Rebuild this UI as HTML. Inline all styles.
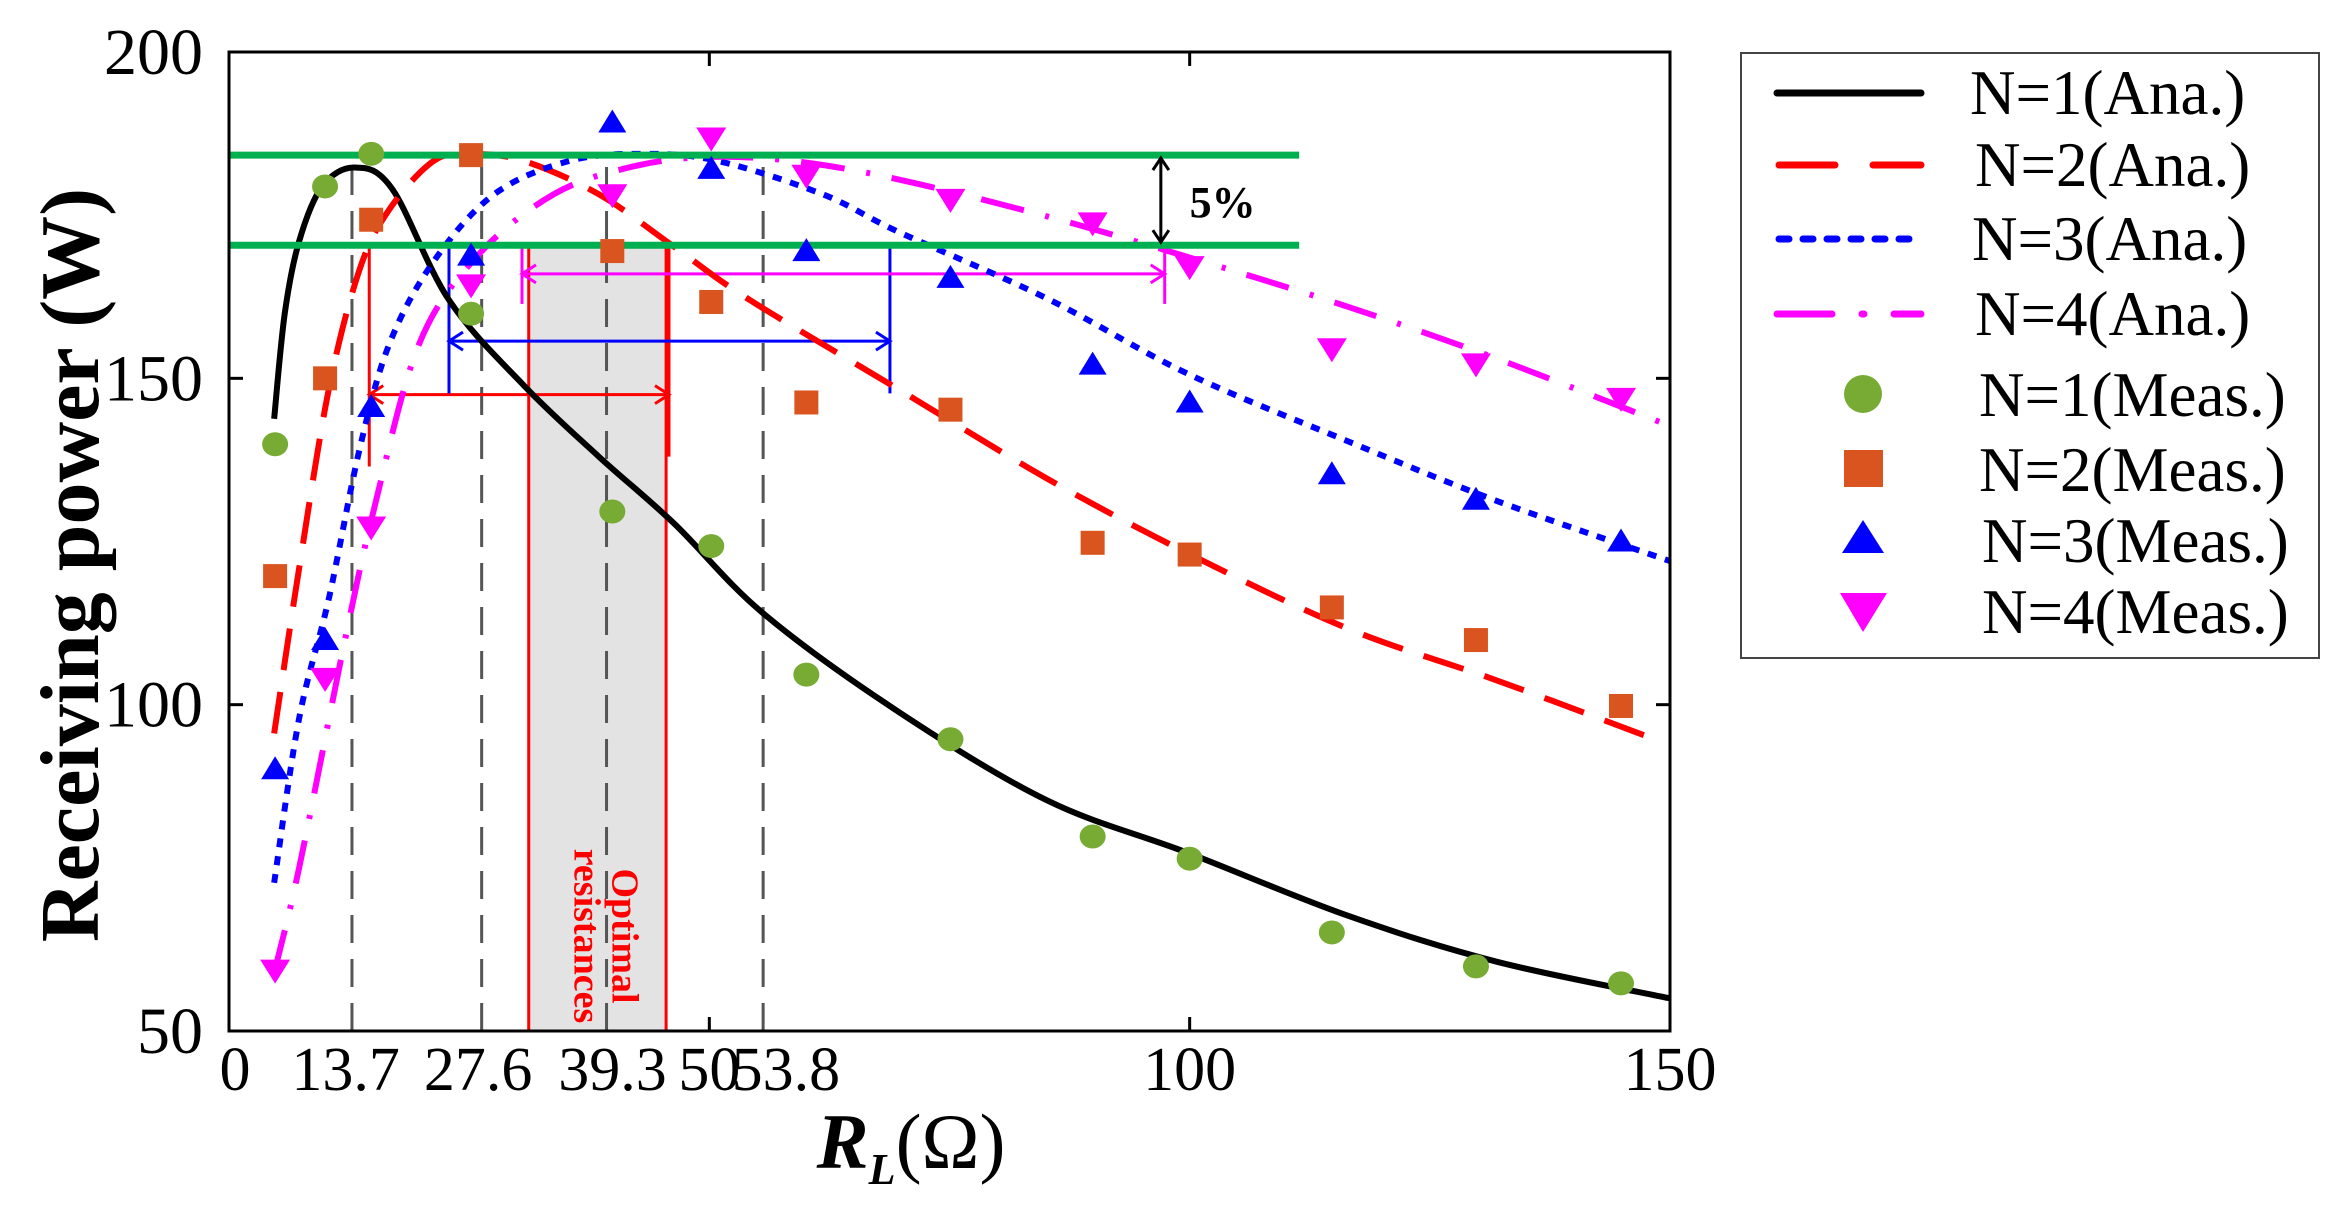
<!DOCTYPE html>
<html><head><meta charset="utf-8"><style>
html,body{margin:0;padding:0;background:#fff;}
svg{display:block;font-family:"Liberation Serif",serif;}
</style></head><body>
<svg id="chart" width="2346" height="1211" viewBox="0 0 2346 1211" xmlns="http://www.w3.org/2000/svg">
<g id="plot"></g>
<g id="legend">
  <rect x="1741" y="53" width="578" height="605" fill="#fff" stroke="#444" stroke-width="2"/>
  <line x1="1777" y1="93" x2="1921" y2="93" stroke="#000" stroke-width="7" stroke-linecap="round"/>
  <line x1="1779" y1="165" x2="1921" y2="165" stroke="#f00" stroke-width="7" stroke-linecap="round" stroke-dasharray="56 38"/>
  <line x1="1779" y1="239" x2="1921" y2="239" stroke="#00f" stroke-width="7" stroke-linecap="round" stroke-dasharray="10 14"/>
  <line x1="1777" y1="314" x2="1921" y2="314" stroke="#f0f" stroke-width="7" stroke-linecap="round" stroke-dasharray="55 30 2 30"/>
  <circle cx="1863" cy="394" r="19" fill="#77ab33"/>
  <rect x="1844" y="450" width="39" height="37" fill="#d9541e"/>
  <polygon points="1863,520 1884,553 1842,553" fill="#00f"/>
  <polygon points="1840,593 1887,593 1863,632" fill="#f0f"/>
  <g font-size="63" fill="#000">
    <text x="1970" y="114">N=1(Ana.)</text>
    <text x="1975" y="186">N=2(Ana.)</text>
    <text x="1972" y="260">N=3(Ana.)</text>
    <text x="1975" y="335">N=4(Ana.)</text>
    <text x="1979" y="416">N=1(Meas.)</text>
    <text x="1979" y="491">N=2(Meas.)</text>
    <text x="1982" y="562">N=3(Meas.)</text>
    <text x="1982" y="633">N=4(Meas.)</text>
  </g>
</g>
</svg>
<script>
const ana1X=[4.7,5.8,7.3,9.7,13.1,17,22.9,30.7,38.5,46.3,55.6,69.6,85.2,99.8,116.4,132,150];
const ana1Y=[143.8,159.9,171,179.4,182.3,179,162,148.9,138,127.8,114,99,85.3,77.3,67.7,60.6,55];
const ana2X=[4.7,7.3,10.4,13.6,16.7,21.3,25.2,30.7,38.5,46.3,54,69.6,85.2,99.8,116.4,132,147.5];
const ana2Y=[95.6,120.9,148.4,166.7,175.9,183.3,184.4,183.3,178.2,170.2,162.2,148.4,134.6,123.2,111.7,103.7,95.2];
const ana3X=[4.7,7.3,10.4,13.6,16.7,21.3,27.6,35.4,43.1,50.9,61.8,69.6,85.2,99.8,116.4,132,150];
const ana3Y=[72.7,97.9,116.3,139.2,155.3,167.9,178.2,183.3,184.4,183.3,178.2,172.5,162.2,150.7,140.4,131.2,122];
const ana4X=[4.7,7.3,12,15.1,19.8,26,33.8,41.6,49.4,58.7,69.6,85.2,99.8,116.4,132,150];
const ana4Y=[58.9,75,109.4,130,155.3,169,178.2,182.3,183.9,183.3,180.5,174.8,168.6,161,153,142.7];
const measX=[4.8,10,14.8,25.2,39.9,50.2,60.1,75.1,89.9,100,114.8,129.8,144.9];
const meas1=[139.9,179.4,184.4,159.9,129.6,124.3,104.6,94.7,79.8,76.4,65.1,59.9,57.3];
const meas2=[119.7,150,174.3,184.2,169.5,161.7,146.3,145.2,124.8,123,114.9,109.9,99.8];
const meas3=[90.1,109.9,145.6,168.8,189.2,182.1,169.5,165.4,152.1,146.3,135.3,131.4,125];
const meas4=[59.4,104.1,127.3,164.4,178.2,186.9,181.2,177.5,173.9,167.2,154.6,152.3,147];
const xTicks=[0,13.7,27.6,39.3,50,53.8,100,150];
const xTickLabels=["0","13.7","27.6","39.3","50","53.8","100","150"];
const yTicks=[50,100,150,200];
const yTickLabels=["50","100","150","200"];
const optimalRes=[12.8,26.3,39.3,55.6];
const bandLimits=[184.2,170.4];

const L=229,R=1670,T=52,B=1031;
const X=v=>L+(v-0)/150*(R-L);
const Y=v=>B-(v-50)/150*(B-T);
const NS="http://www.w3.org/2000/svg";
const g=document.getElementById('plot');
function mk(tag,attrs,parent){const e=document.createElementNS(NS,tag);for(const k in attrs)e.setAttribute(k,attrs[k]);(parent||g).appendChild(e);return e;}
function smooth(xs,ys){const p=xs.map((x,i)=>[X(x),Y(ys[i])]);let d=`M${p[0][0]},${p[0][1]}`;
 for(let i=0;i<p.length-1;i++){const p0=p[i-1]||p[i],p1=p[i],p2=p[i+1],p3=p[i+2]||p2;
  const c1=[p1[0]+(p2[0]-p0[0])/6,p1[1]+(p2[1]-p0[1])/6],c2=[p2[0]-(p3[0]-p1[0])/6,p2[1]-(p3[1]-p1[1])/6];
  d+=`C${c1[0]},${c1[1]} ${c2[0]},${c2[1]} ${p2[0]},${p2[1]}`;}return d;}

let e=mk('rect',{x:X(31.2),y:Y(bandLimits[1]),width:X(45.5)-X(31.2),height:B-Y(bandLimits[1]),fill:'#e3e3e3',stroke:'#f00','stroke-width':3});


e=mk('text',{x:0,y:0,'font-size':38,'font-weight':'bold',fill:'#f00','text-anchor':'middle',transform:`translate(${X(38.9)},${B-95}) rotate(90)`});


e.innerHTML=`<tspan x="0" dy="-10">Optimal</tspan><tspan x="0" dy="38">resistances</tspan>`;

optimalRes.forEach(v=>{const l=mk('line',{x1:X(v),x2:X(v),y1:B,y2:Y(bandLimits[0]),stroke:'#555','stroke-width':3,'stroke-dasharray':'28 16'});
 
 });

function rangeArrow(x1,x2,yv,yBot1,yBot2,col,name){
 const a=mk('g',{stroke:col,'stroke-width':3,fill:'none'});
 
 
 mk('line',{x1:X(x1),x2:X(x2),y1:Y(yv),y2:Y(yv)},a);
 mk('line',{x1:X(x1),x2:X(x1),y1:Y(bandLimits[1]),y2:Y(yBot1)},a);
 mk('line',{x1:X(x2),x2:X(x2),y1:Y(bandLimits[1]),y2:Y(yBot2)},a);
 mk('path',{d:`M${X(x1)+14},${Y(yv)-9}L${X(x1)},${Y(yv)}L${X(x1)+14},${Y(yv)+9}M${X(x2)-14},${Y(yv)-9}L${X(x2)},${Y(yv)}L${X(x2)-14},${Y(yv)+9}`},a);
}
rangeArrow(14.6,45.8,147.5,136.5,138,'#f00','range-arrow-n2');
rangeArrow(22.9,68.8,155.7,147.7,147.7,'#00f','range-arrow-n3');
rangeArrow(30.5,97.4,166,161.4,161.4,'#f0f','range-arrow-n4');

[[ana1X,ana1Y,'#000','','curve-n1-ana'],[ana2X,ana2Y,'#f00','42 22','curve-n2-ana'],[ana3X,ana3Y,'#00f','9 9','curve-n3-ana'],[ana4X,ana4Y,'#f0f','44 22 4 22','curve-n4-ana']].forEach(c=>{
 const p=mk('path',{d:smooth(c[0],c[1]),fill:'none',stroke:c[2],'stroke-width':6,'stroke-dasharray':c[3]||'none'});
 
 });

bandLimits.forEach(v=>{const l=mk('line',{x1:L,x2:X(111.4),y1:Y(v),y2:Y(v),stroke:'#00b050','stroke-width':7});
 
 });
e=mk('path',{d:`M${X(97)},${Y(bandLimits[0])+3}V${Y(bandLimits[1])-3}M${X(97)-8},${Y(bandLimits[0])+15}L${X(97)},${Y(bandLimits[0])+3}L${X(97)+8},${Y(bandLimits[0])+15}M${X(97)-8},${Y(bandLimits[1])-15}L${X(97)},${Y(bandLimits[1])-3}L${X(97)+8},${Y(bandLimits[1])-15}`,stroke:'#000','stroke-width':3,fill:'none'});


e=mk('text',{x:X(100),y:Y(177)+15,'font-size':44,'font-weight':'bold'});


e.textContent='5%';

measX.forEach((x,i)=>{const cx=X(x);
 let m=mk('ellipse',{cx:cx,cy:Y(meas1[i]),rx:13,ry:12,fill:'#77ab33'});
 
 
 m=mk('rect',{x:cx-12,y:Y(meas2[i])-12,width:24,height:24,fill:'#d9541e'});
 
 
 let cy=Y(meas3[i]);
 m=mk('polygon',{points:`${cx},${cy-13} ${cx+14},${cy+10} ${cx-14},${cy+10}`,fill:'#00f'});
 
 
 cy=Y(meas4[i]);
 m=mk('polygon',{points:`${cx-15},${cy-10} ${cx+15},${cy-10} ${cx},${cy+14}`,fill:'#f0f'});
 
 
});

e=mk('rect',{x:L,y:T,width:R-L,height:B-T,fill:'none',stroke:'#000','stroke-width':3});


[0,50,100,150].forEach(v=>{mk('line',{x1:X(v),x2:X(v),y1:B,y2:B-14,stroke:'#000','stroke-width':3});mk('line',{x1:X(v),x2:X(v),y1:T,y2:T+14,stroke:'#000','stroke-width':3});});
yTicks.forEach(v=>{mk('line',{x1:L,x2:L+14,y1:Y(v),y2:Y(v),stroke:'#000','stroke-width':3});mk('line',{x1:R,x2:R-14,y1:Y(v),y2:Y(v),stroke:'#000','stroke-width':3});});

const xOff={"0":6,"13.7":-15,"27.6":-16,"39.3":6,"53.8":40};
xTicks.forEach((v,i)=>{const t=mk('text',{x:X(v)+(xOff[xTickLabels[i]]||0),y:1090,'font-size':62,'text-anchor':'middle'});
 
 
 t.textContent=xTickLabels[i];});
yTicks.forEach((v,i)=>{const t=mk('text',{x:203,y:Y(v)+22,'font-size':66,'text-anchor':'end'});
 
 
 t.textContent=yTickLabels[i];});

e=mk('text',{x:0,y:0,'font-size':84,'font-weight':'bold','text-anchor':'middle',transform:`translate(98,565) rotate(-90)`});


e.textContent='Receiving power (W)';
e=mk('text',{x:X(71),y:1168,'font-size':78,'text-anchor':'middle'});


e.innerHTML='<tspan font-style="italic" font-weight="bold">R</tspan><tspan font-style="italic" font-weight="bold" font-size="44" dy="16">L</tspan><tspan dy="-16">(Ω)</tspan>';
</script>
</body></html>
